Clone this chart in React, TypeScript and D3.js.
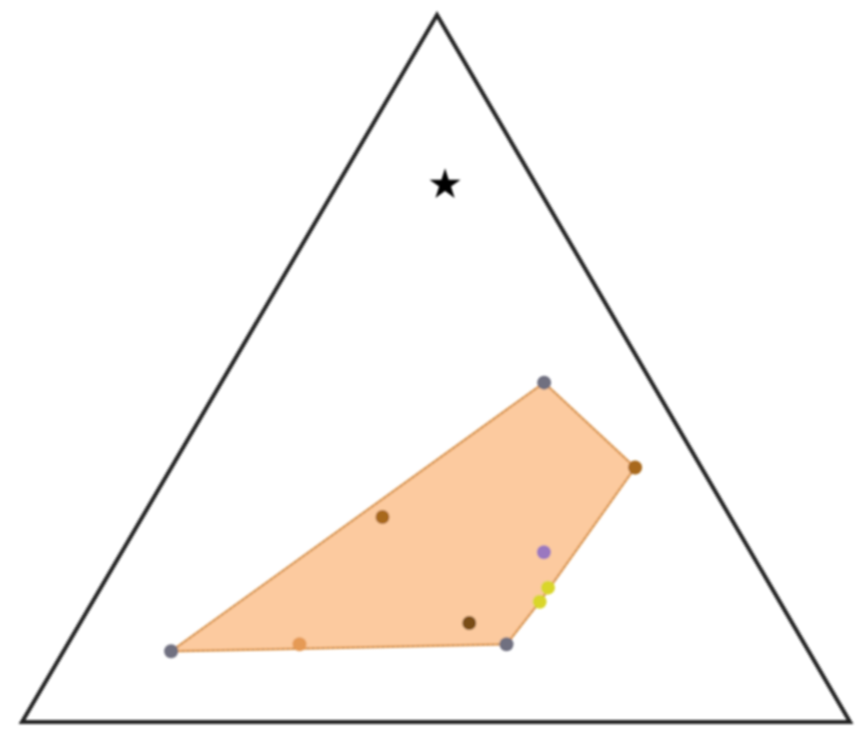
import React from "react";
import * as d3 from "d3";

// Ternary compositions (top, left, right) for each sample
const sampleNames = ["S1", "S2", "S3", "S4", "S5", "S6", "S7", "S8", "S9", "S10"];
const topShare = [0.1, 0.11, 0.29, 0.48, 0.36, 0.24, 0.19, 0.17, 0.14, 0.11];
const leftShare = [0.77, 0.61, 0.42, 0.13, 0.08, 0.25, 0.27, 0.29, 0.39, 0.36];
const rightShare = [0.13, 0.28, 0.29, 0.39, 0.56, 0.51, 0.54, 0.54, 0.47, 0.53];
const sampleGroup = ["grey", "orange", "brown", "grey", "brown", "purple", "yellow", "yellow", "dark", "grey"];

// Reference composition marked with a star
const starShare = { top: 0.76, left: 0.11, right: 0.13 };

const groupColors: Record<string, string> = {
  grey: "#6f7080",
  orange: "#e59a55",
  brown: "#a8691f",
  purple: "#9a78c0",
  yellow: "#d9d62a",
  dark: "#7a4e12",
};

const W = 866;
const H = 743;

export default function App() {
  // Triangle corners in screen space
  const apex: [number, number] = [437, 15];
  const baseY = 722;
  const x = d3.scaleLinear().domain([0, 1]).range([22, 850]);
  const y = d3.scaleLinear().domain([0, 1]).range([baseY, apex[1]]);

  const project = (t: number, l: number, r: number): [number, number] => {
    const s = t + l + r;
    const a = t / s, b = l / s, c = r / s;
    const px = a * apex[0] + b * x(0) + c * x(1);
    const py = y(a);
    return [px, py];
  };

  const pts = sampleNames.map((name, i) => ({
    name,
    group: sampleGroup[i],
    p: project(topShare[i], leftShare[i], rightShare[i]),
  }));

  const hull = d3.polygonHull(pts.map((d) => d.p)) || [];
  const hullPath = "M" + hull.map((p) => p.join(",")).join("L") + "Z";

  const triPath = d3.line()([apex, [x(0), baseY], [x(1), baseY]]) + "Z";

  const star = project(starShare.top, starShare.left, starShare.right);
  const starPath = d3.symbol().type(d3.symbolStar).size(300)() || "";

  return (
    <svg
      width={W}
      height={H}
      style={{ position: "absolute", left: 0, top: 0, background: "#fff" }}
    >
      <defs>
        <filter id="soft" x="-5%" y="-5%" width="110%" height="110%">
          <feGaussianBlur stdDeviation="1.2" />
        </filter>
      </defs>
      <g filter="url(#soft)">
        <path d={hullPath} fill="#fcca9f" stroke="#e8a25c" strokeWidth={2.5} strokeLinejoin="round" />
        <path d={hullPath} fill="none" stroke="#8a7a60" strokeWidth={1.2} strokeDasharray="2,3" strokeOpacity={0.6} />
        {pts.map((d) => (
          <circle key={d.name} cx={d.p[0]} cy={d.p[1]} r={7} fill={groupColors[d.group]} />
        ))}
        <path d={triPath} fill="none" stroke="#222" strokeWidth={4} strokeLinejoin="miter" />
        <path d={starPath} transform={`translate(${star[0]},${star[1]})`} fill="#000" />
      </g>
    </svg>
  );
}
